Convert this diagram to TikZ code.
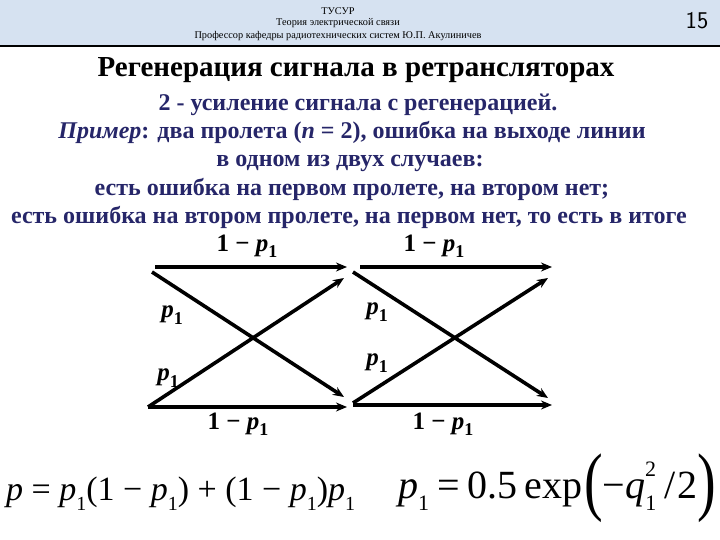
\documentclass[tikz,border=0pt]{standalone}
\usepackage{fontspec}
\usepackage{graphicx}
\setmainfont{Liberation Serif}
\usetikzlibrary{arrows.meta}
\definecolor{hdr}{RGB}{214,226,241}
\definecolor{navy}{RGB}{38,38,105}
\tikzset{
  arr/.style={line width=3.6pt,-{Stealth[length=11pt,width=9pt]}},
  lbl/.style={font=\fontsize{25}{27}\selectfont\bfseries,inner sep=0pt},
  bodytxt/.style={font=\fontsize{24}{26}\selectfont\bfseries,text=navy,inner sep=0pt,anchor=base},
  hdrtxt/.style={font=\fontsize{10.3}{11}\selectfont,inner sep=0pt},
  eq/.style={font=\fontsize{34}{36}\selectfont,inner sep=0pt,anchor=base west}
}
\newcommand{\pone}{\textbf{\textit{p}}\raisebox{-0.25em}{\fontsize{18}{18}\selectfont\bfseries 1}}
\newcommand{\qp}{\textit{p}\raisebox{-0.3em}{\fontsize{20}{20}\selectfont 1}}
\newcommand{\qpb}{\textit{p}\raisebox{-0.3em}{\fontsize{22}{22}\selectfont 1}}
\begin{document}
\begin{tikzpicture}[x=1pt,y=-1pt]
\useasboundingbox (0,0) rectangle (720,540);
\fill[white] (0,0) rectangle (720,540);
% header
\fill[hdr] (0,0) rectangle (720,46);
\draw[line width=2pt] (0,46) -- (720,46);
\node[hdrtxt] (h1) at (338,11) {ТУСУР};
\node[hdrtxt] (h2) at (338,23) {Теория электрической связи};
\node[hdrtxt] (h3) at (338,36) {Профессор кафедры радиотехнических систем Ю.П. Акулиничев};
\node[font=\fontsize{24}{26}\selectfont\sffamily,inner sep=0pt] (num) at (697,21) {15};
% title
\node[font=\fontsize{29}{31}\selectfont\bfseries,inner sep=0pt,anchor=base] (title) at (356,77) {Регенерация сигнала в ретрансляторах};
% body text
\node[bodytxt] (t1) at (358,111) {2 - усиление сигнала с регенерацией.};
\node[bodytxt] (t2) at (352,139) {\textit{Пример}: два пролета (\textit{n} = 2), ошибка на выходе линии};
\node[bodytxt] (t3) at (350,167) {в одном из двух случаев:};
\node[bodytxt] (t4) at (352,196) {есть ошибка на первом пролете, на втором нет;};
\node[bodytxt] (t5) at (349,224) {есть ошибка на втором пролете, на первом нет, то есть в итоге};
% diagram points
\coordinate (a1) at (155,267);
\coordinate (a2) at (152,272);
\coordinate (b1) at (148,407);
\coordinate (m1) at (347,267);
\coordinate (m2) at (344,278);
\coordinate (m3) at (344,397);
\coordinate (m4) at (347,407);
\coordinate (c1) at (360,267);
\coordinate (c2) at (353,272);
\coordinate (d1) at (353,405);
\coordinate (d2) at (353,403);
\coordinate (e1) at (552,267);
\coordinate (e2) at (548,278);
\coordinate (e3) at (548,398);
\coordinate (e4) at (552,405);
\draw[arr] (a1) -- (m1);
\draw[arr] (a2) -- (m3);
\draw[arr] (b1) -- (m2);
\draw[arr] (b1) -- (m4);
\draw[arr] (c1) -- (e1);
\draw[arr] (c2) -- (e3);
\draw[arr] (d2) -- (e2);
\draw[arr] (d1) -- (e4);
% labels
\node[lbl] (l1) at (247,246) {1 − \pone};
\node[lbl] (l2) at (434,246) {1 − \pone};
\node[lbl] (l3) at (238,424) {1 − \pone};
\node[lbl] (l4) at (443,424) {1 − \pone};
\node[lbl] (p1) at (172,315) {\pone};
\node[lbl] (p2) at (168,378) {\pone};
\node[lbl] (p3) at (377,312) {\pone};
\node[lbl] (p4) at (377,363) {\pone};
% formulas
\node[eq] (f1) at (6,500) {\textit{p} = \qp(1 − \qp) + (1 − \qp)\qp};
\node[eq,font=\fontsize{40}{42}\selectfont] (f2) at (398,498) {\qpb\kern0.2em=\kern0.2em0.5\,exp\kern0.05em\raisebox{-0.22em}{\scalebox{1.4}[1.9]{(}}−\textit{q}\raisebox{-0.3em}{\fontsize{22}{22}\selectfont 1}\kern-0.28em\raisebox{0.55em}{\fontsize{22}{22}\selectfont 2}\kern0.2em/\kern0.05em2\raisebox{-0.22em}{\scalebox{1.4}[1.9]{)}}};
\end{tikzpicture}
\end{document}
